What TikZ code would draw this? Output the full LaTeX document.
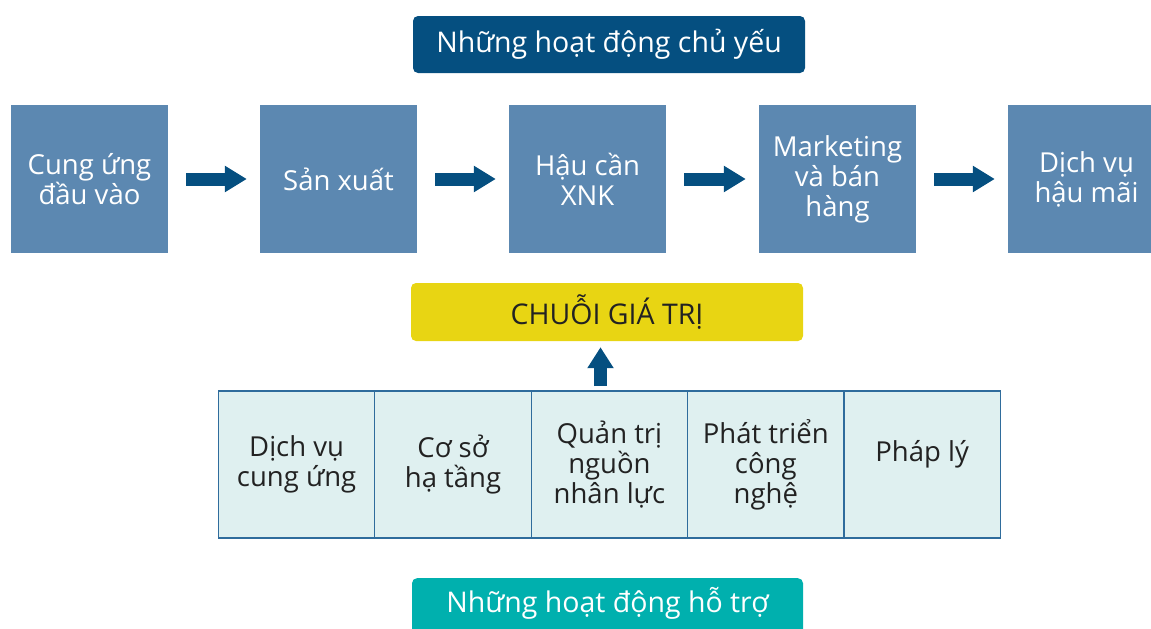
\documentclass[tikz,border=0pt]{standalone}
\usepackage{fontspec}
\setmainfont{Open Sans}
\usetikzlibrary{arrows.meta}
\definecolor{navy}{HTML}{054F80}
\definecolor{steel}{HTML}{5C88B1}
\definecolor{gold}{HTML}{E8D513}
\definecolor{tealbox}{HTML}{00B0AE}
\definecolor{pale}{HTML}{DFF0F0}
\definecolor{rulecol}{HTML}{2F6C9C}
\definecolor{ink}{HTML}{222222}
\begin{document}
\begin{tikzpicture}[x=1pt,y=-1pt,
  txt/.style={font=\fontsize{27.5}{30}\selectfont, align=center},
  stepbox/.style={txt, fill=steel, text=white, minimum width=157pt, minimum height=148pt, inner sep=0pt},
  cell/.style={txt, fill=pale, draw=rulecol, line width=1.3pt, text=ink, minimum width=156.4pt, minimum height=147pt, inner sep=0pt},
  headbox/.style={font=\fontsize{28.5}{32}\selectfont, rounded corners=5pt, inner sep=0pt},
  bigarrow/.style={draw=navy, line width=13pt, -{Triangle[length=22pt,width=25pt]}},
]
\useasboundingbox (0,0) rectangle (1151,629);

% title
\node[headbox, fill=navy, text=white, minimum width=392pt, minimum height=57pt] (title) at (609,44.5) {Những hoạt động chủ yếu};

% primary activities
\node[stepbox] (s1) at (89.5,179) {Cung ứng\\đầu vào};
\node[stepbox] (s2) at (338.5,179) {Sản xuất};
\node[stepbox] (s3) at (587.5,179) {Hậu cần\\XNK};
\node[stepbox] (s4) at (837.5,179) {Marketing\\và bán\\hàng};
\node[stepbox] (s5) at (1086.5,179) {Dịch vụ\\hậu mãi};

\draw[bigarrow] ([xshift=18pt]s1.east) -- ([xshift=-13pt]s2.west);
\draw[bigarrow] ([xshift=18pt]s2.east) -- ([xshift=-13pt]s3.west);
\draw[bigarrow] ([xshift=18pt]s3.east) -- ([xshift=-13pt]s4.west);
\draw[bigarrow] ([xshift=18pt]s4.east) -- ([xshift=-13pt]s5.west);

% value chain
\node[headbox, fill=gold, text=ink, minimum width=392pt, minimum height=58pt] (chain) at (607,312) {CHUỖI GIÁ TRỊ};

% support activities table
\node[cell] (c1) at (296.6,464.5) {Dịch vụ\\cung ứng};
\node[cell] (c2) at (453,464.5) {Cơ sở\\hạ tầng};
\node[cell] (c3) at (609.4,464.5) {Quản trị\\nguồn\\nhân lực};
\node[cell] (c4) at (765.8,464.5) {Phát triển\\công\\nghệ};
\node[cell] (c5) at (922.2,464.5) {};
\node[txt, text=ink] (c5text) at ([yshift=10pt]c5.center) {Pháp lý};

\coordinate (upfoot) at (600.5,386);
\draw[draw=navy, line width=13pt, -{Triangle[length=21pt,width=25pt]}, shorten >=6pt] (upfoot) -- (upfoot |- chain.south);

% bottom label
\node[fill=tealbox, rounded corners=5pt, minimum width=391pt, minimum height=70pt, anchor=north, inner sep=0pt] (sup) at (607.5,578) {};
\node[font=\fontsize{28.5}{32}\selectfont, text=white, anchor=center] (suptext) at ([yshift=-25pt]sup.north) {Những hoạt động hỗ trợ};
\end{tikzpicture}
\end{document}
